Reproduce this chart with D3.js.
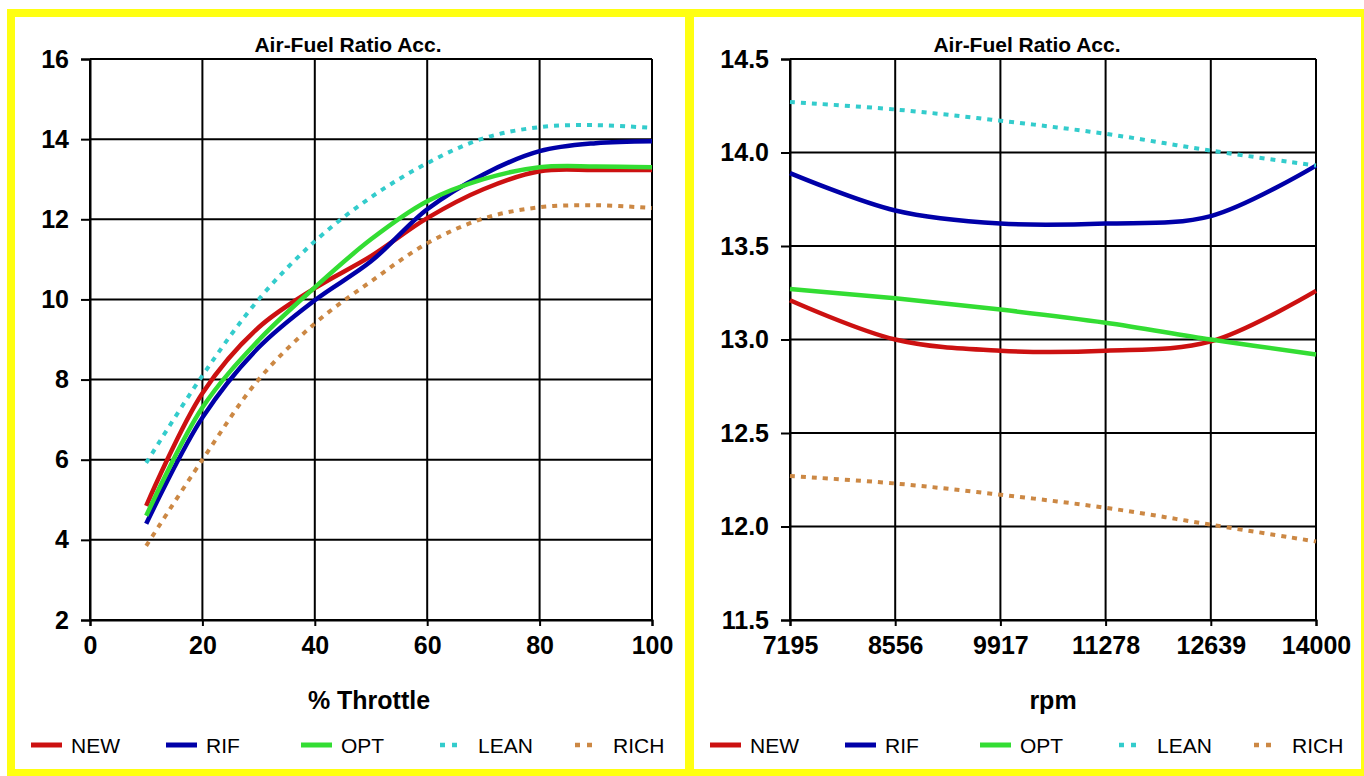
<!DOCTYPE html>
<html>
<head>
<meta charset="utf-8">
<script src="https://cdn.jsdelivr.net/npm/d3@7"></script>
<style>
  html, body { margin: 0; padding: 0; background: #ffffff; }
  svg { display: block; }
  text { font-family: "Liberation Sans", Arial, sans-serif; }
</style>
</head>
<body>
<svg id="chart" width="1364" height="776"></svg>
<script>
// ---------- data ----------
const chartTitle = "Air-Fuel Ratio Acc.";
const seriesNames = ["NEW", "RIF", "OPT", "LEAN", "RICH"];

// Left chart: % Throttle
const throttle = [10, 20, 30, 40, 50, 60, 70, 80, 90, 100];
const thrNEW  = [4.85, 7.66, 9.3, 10.28, 11.08, 12.03, 12.75, 13.2, 13.23, 13.23];
const thrRIF  = [4.4, 7.05, 8.8, 9.98, 10.95, 12.25, 13.12, 13.7, 13.9, 13.95];
const thrOPT  = [4.6, 7.3, 8.98, 10.3, 11.5, 12.45, 13.0, 13.3, 13.32, 13.3];
const thrLEAN = [5.92, 8.1, 10.0, 11.45, 12.55, 13.4, 14.02, 14.3, 14.35, 14.28];
const thrRICH = [3.85, 6.0, 8.0, 9.4, 10.45, 11.4, 12.02, 12.3, 12.35, 12.28];
const thrXTicks = [0, 20, 40, 60, 80, 100];
const thrYTicks = [2, 4, 6, 8, 10, 12, 14, 16];

// Right chart: rpm
const rpm = [7195, 8556, 9917, 11278, 12639, 14000];
const rpmNEW  = [13.21, 13.0, 12.94, 12.94, 12.99, 13.26];
const rpmRIF  = [13.89, 13.69, 13.62, 13.62, 13.66, 13.93];
const rpmOPT  = [13.27, 13.22, 13.16, 13.09, 13.0, 12.92];
const rpmLEAN = [14.27, 14.23, 14.17, 14.1, 14.01, 13.93];
const rpmRICH = [12.27, 12.23, 12.17, 12.1, 12.01, 11.92];
const rpmXTicks = [7195, 8556, 9917, 11278, 12639, 14000];
const rpmYTicks = [11.5, 12.0, 12.5, 13.0, 13.5, 14.0, 14.5];

// ---------- styles ----------
const colors = { NEW: "#cc1111", RIF: "#0000a8", OPT: "#33dd33", LEAN: "#33cccc", RICH: "#cc8844" };
const dotted = { NEW: false, RIF: false, OPT: false, LEAN: true, RICH: true };

const svg = d3.select("#chart");

// frame: yellow border with two white panels
svg.append("rect").attr("x", 7).attr("y", 9).attr("width", 1357).attr("height", 767).attr("fill", "#ffff11");
svg.append("rect").attr("x", 15).attr("y", 17).attr("width", 670).attr("height", 752).attr("fill", "#ffffff");
svg.append("rect").attr("x", 694).attr("y", 17).attr("width", 667).attr("height", 752).attr("fill", "#ffffff");

function drawPanel(cfg) {
  const g = svg.append("g");
  const x = d3.scaleLinear().domain(cfg.xDomain).range(cfg.xRange);
  const y = d3.scaleLinear().domain(cfg.yDomain).range([620, 59]);

  // title
  g.append("text")
    .attr("x", cfg.panelCenter).attr("y", 52)
    .attr("text-anchor", "middle")
    .attr("font-size", 21).attr("font-weight", "bold")
    .attr("fill", "#000")
    .text(chartTitle);

  // horizontal grid lines
  g.selectAll(".hg").data(cfg.yTicks).enter().append("line")
    .attr("x1", cfg.xRange[0]).attr("x2", cfg.xRange[1])
    .attr("y1", d => y(d)).attr("y2", d => y(d))
    .attr("stroke", "#000").attr("stroke-width", 2);
  // vertical grid lines
  g.selectAll(".vg").data(cfg.xTicks).enter().append("line")
    .attr("x1", d => x(d)).attr("x2", d => x(d))
    .attr("y1", 59).attr("y2", 620)
    .attr("stroke", "#000").attr("stroke-width", 2);

  // y axis
  const yAxis = d3.axisLeft(y).tickValues(cfg.yTicks).tickFormat(cfg.yFormat).tickSize(9).tickPadding(12);
  const ya = g.append("g").attr("transform", `translate(${cfg.xRange[0]},0)`).call(yAxis);
  ya.select(".domain").attr("stroke", "#000").attr("stroke-width", 2);
  ya.selectAll(".tick line").attr("stroke", "#000").attr("stroke-width", 2);
  ya.selectAll(".tick text").attr("font-size", 25).attr("font-weight", "bold")
    .attr("fill", "#000").attr("font-family", "'Liberation Sans', Arial, sans-serif");

  // x axis
  const xAxis = d3.axisBottom(x).tickValues(cfg.xTicks).tickFormat(d3.format("d")).tickSize(6).tickPadding(10);
  const xa = g.append("g").attr("transform", `translate(0,620)`).call(xAxis);
  xa.select(".domain").attr("stroke", "#000").attr("stroke-width", 2);
  xa.selectAll(".tick line").attr("stroke", "#000").attr("stroke-width", 2);
  xa.selectAll(".tick text").attr("font-size", 25).attr("font-weight", "bold")
    .attr("fill", "#000").attr("font-family", "'Liberation Sans', Arial, sans-serif");

  // axis title
  g.append("text")
    .attr("x", cfg.axisTitleX).attr("y", 709)
    .attr("text-anchor", "middle")
    .attr("font-size", 25).attr("font-weight", "bold").attr("fill", "#000")
    .text(cfg.xTitle);

  // lines
  const line = d3.line().x(d => x(d[0])).y(d => y(d[1])).curve(d3.curveCatmullRom.alpha(0.5));
  cfg.series.forEach(s => {
    const pts = cfg.xs.map((v, i) => [v, s.values[i]]);
    g.append("path").datum(pts)
      .attr("d", line)
      .attr("fill", "none")
      .attr("stroke", colors[s.name])
      .attr("stroke-width", dotted[s.name] ? 4 : 4.5)
      .attr("stroke-dasharray", dotted[s.name] ? "5,6" : null)
      .attr("stroke-linejoin", "round");
  });

  // legend
  const lg = g.append("g");
  seriesNames.forEach((name, i) => {
    const lx = cfg.legendX + i * 135;
    if (dotted[name]) {
      lg.append("line").attr("x1", lx + 2).attr("x2", lx + 19).attr("y1", 745).attr("y2", 745)
        .attr("stroke", colors[name]).attr("stroke-width", 4.5).attr("stroke-dasharray", "5,7");
    } else {
      lg.append("line").attr("x1", lx - 2).attr("x2", lx + 29).attr("y1", 745).attr("y2", 745)
        .attr("stroke", colors[name]).attr("stroke-width", 5);
    }
    lg.append("text").attr("x", lx + (dotted[name] ? 40 : 38)).attr("y", 753)
      .attr("font-size", 21).attr("fill", "#000")
      .attr("textLength", null)
      .text(name);
  });
}

drawPanel({
  xDomain: [0, 100], xRange: [90, 652],
  yDomain: [2, 16],
  xTicks: thrXTicks, yTicks: thrYTicks, yFormat: d3.format("d"),
  xs: throttle,
  series: [
    { name: "NEW", values: thrNEW }, { name: "RIF", values: thrRIF }, { name: "OPT", values: thrOPT },
    { name: "LEAN", values: thrLEAN }, { name: "RICH", values: thrRICH }
  ],
  xTitle: "% Throttle", axisTitleX: 369, panelCenter: 348, legendX: 33
});

drawPanel({
  xDomain: [7195, 14000], xRange: [790, 1316],
  yDomain: [11.5, 14.5],
  xTicks: rpmXTicks, yTicks: rpmYTicks, yFormat: d3.format(".1f"),
  xs: rpm,
  series: [
    { name: "NEW", values: rpmNEW }, { name: "RIF", values: rpmRIF }, { name: "OPT", values: rpmOPT },
    { name: "LEAN", values: rpmLEAN }, { name: "RICH", values: rpmRICH }
  ],
  xTitle: "rpm", axisTitleX: 1053, panelCenter: 1027, legendX: 712
});
</script>
</body>
</html>
